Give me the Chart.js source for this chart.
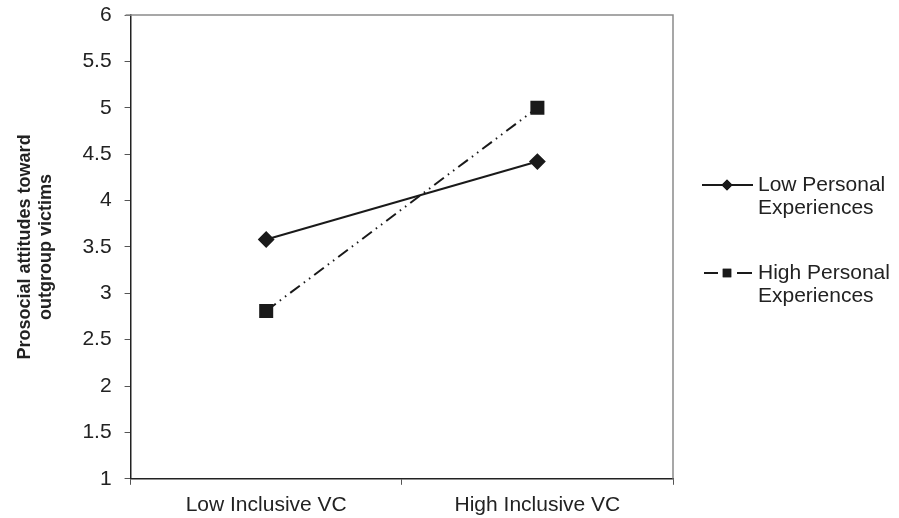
<!DOCTYPE html>
<html>
<head>
<meta charset="utf-8">
<script src="https://cdn.jsdelivr.net/npm/chart.js@4"></script>
<style>
  html, body { margin: 0; padding: 0; background: #fff; }
  #wrap { width: 899px; height: 518px; }
</style>
</head>
<body>
<div id="wrap"><canvas id="chart" width="899" height="518"></canvas></div>
<script>
// data
const categories = ["Low Inclusive VC", "High Inclusive VC"];
const lowPersonal = [3.58, 4.42];
const highPersonal = [2.81, 5.0];
const seriesNames = [["Low Personal", "Experiences"], ["High Personal", "Experiences"]];
const yTicks = [1, 1.5, 2, 2.5, 3, 3.5, 4, 4.5, 5, 5.5, 6];

const FONT = "'Liberation Sans', Arial, sans-serif";

// gray frame on top and right, like the original plot area
const framePlugin = {
  id: "frame",
  afterDraw(chart) {
    const { ctx, chartArea: a } = chart;
    ctx.save();
    ctx.strokeStyle = "#8a8a8a";
    ctx.lineWidth = 1.5;
    ctx.beginPath();
    ctx.moveTo(a.left - 5, a.top);
    ctx.lineTo(a.right, a.top);
    ctx.lineTo(a.right, a.bottom);
    ctx.stroke();
    ctx.restore();
  }
};

// legend with two-line labels, drawn right of the plot
const sideLegend = {
  id: "sideLegend",
  afterDraw(chart) {
    const { ctx, chartArea: a } = chart;
    const x0 = a.right + 29;
    const rows = [185, 273];
    ctx.save();
    chart.data.datasets.forEach((ds, i) => {
      const y = rows[i];
      ctx.strokeStyle = "#1a1a1a";
      ctx.lineWidth = 2;
      if (i === 0) {
        ctx.beginPath();
        ctx.moveTo(x0, y);
        ctx.lineTo(x0 + 51, y);
        ctx.stroke();
      } else {
        ctx.beginPath();
        ctx.moveTo(x0 + 2, y); ctx.lineTo(x0 + 16, y);
        ctx.moveTo(x0 + 35, y); ctx.lineTo(x0 + 50, y);
        ctx.stroke();
      }
      Chart.helpers.drawPoint(ctx, {
        pointStyle: ds.pointStyle,
        radius: i === 0 ? 5.5 : 6,
        rotation: 0,
        borderWidth: 0
      }, x0 + 25, y);
      ctx.fillStyle = "#1a1a1a";
      ctx.fill();
      ctx.font = "21px " + FONT;
      ctx.fillStyle = "#222";
      ctx.textBaseline = "middle";
      ctx.textAlign = "left";
      seriesNames[i].forEach((t, k) => ctx.fillText(t, x0 + 56, y + k * 23));
    });
    ctx.restore();
  }
};

new Chart(document.getElementById("chart"), {
  type: "line",
  data: {
    labels: categories,
    datasets: [
      {
        label: seriesNames[0].join(" "),
        data: lowPersonal,
        borderColor: "#1a1a1a",
        backgroundColor: "#1a1a1a",
        borderWidth: 2,
        pointStyle: "rectRot",
        pointRadius: 7,
        pointHoverRadius: 7
      },
      {
        label: seriesNames[1].join(" "),
        data: highPersonal,
        borderColor: "#1a1a1a",
        backgroundColor: "#1a1a1a",
        borderWidth: 2,
        borderDash: [12, 5, 1.5, 5, 1.5, 5],
        pointStyle: "rect",
        pointRadius: 8.5,
        pointHoverRadius: 8.5
      }
    ]
  },
  options: {
    responsive: false,
    animation: false,
    layout: { autoPadding: false, padding: { top: 15, right: 226, left: 15, bottom: -8 } },
    plugins: {
      legend: { display: false },
      tooltip: { enabled: false }
    },
    scales: {
      x: {
        offset: true,
        grid: { offset: true, drawOnChartArea: false, color: "#555", tickLength: 6 },
        border: { color: "#222", width: 1.5 },
        ticks: { color: "#222", font: { family: FONT, size: 21 }, padding: 8 },
        afterFit(scale) { scale.paddingLeft = 0; scale.paddingRight = 0; }
      },
      y: {
        min: 1,
        max: 6,
        afterBuildTicks(scale) { scale.ticks = yTicks.map(v => ({ value: v })); },
        afterFit(scale) { scale.paddingTop = 0; scale.paddingBottom = 0; },
        grid: { drawOnChartArea: false, color: "#555", tickLength: 6 },
        border: { color: "#222", width: 1.5 },
        ticks: {
          color: "#222",
          font: { family: FONT, size: 21 },
          padding: 13,
          callback: v => String(v)
        },
        title: {
          display: true,
          text: ["Prosocial attitudes toward", "outgroup victims"],
          color: "#222",
          font: { family: FONT, size: 18, weight: "bold", lineHeight: 1.15 },
          padding: { top: 0, bottom: 13 }
        }
      }
    }
  },
  plugins: [framePlugin, sideLegend]
});
</script>
</body>
</html>
